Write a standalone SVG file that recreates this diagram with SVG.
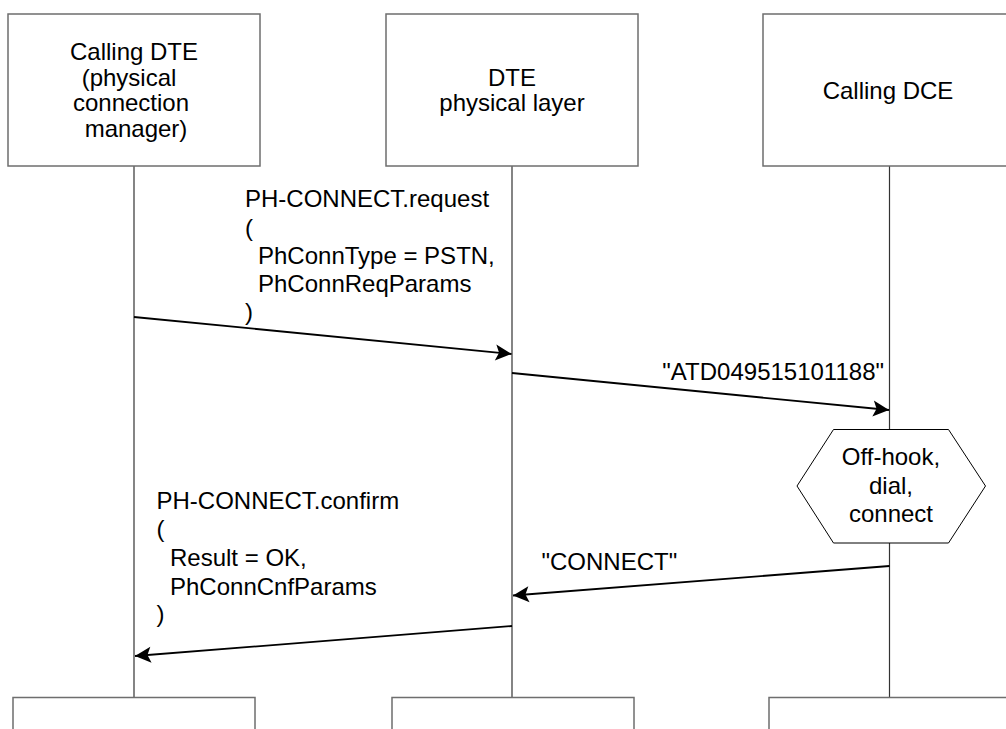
<svg xmlns="http://www.w3.org/2000/svg" width="1006" height="729" viewBox="0 0 1006 729">
<style>
  .box { fill: #ffffff; stroke: #6e6e6e; stroke-width: 1.5; }
  .life { stroke: #333333; stroke-width: 1.2; fill: none; }
  .msg { stroke: #000000; stroke-width: 1.8; fill: none; marker-end: url(#arrow); }
  .hex { fill: #ffffff; stroke: #000000; stroke-width: 1; }
  text { font-family: "Liberation Sans", Arial, sans-serif; font-size: 24px; fill: #000000; }
  .c { text-anchor: middle; }
  .e { text-anchor: end; }
</style>
<defs>
  <marker id="arrow" markerUnits="userSpaceOnUse" markerWidth="20" markerHeight="20" viewBox="-18 -10 20 20" refX="0" refY="0" orient="auto">
    <path d="M0,0 L-16,-8 L-12.5,0 L-16,8 Z" fill="#000000"/>
  </marker>
</defs>
<rect width="1006" height="729" fill="#ffffff"/>

<g id="lifelines">
  <line class="life" x1="134" y1="166" x2="134" y2="697"/>
  <line class="life" x1="512" y1="166" x2="512" y2="697"/>
  <line class="life" x1="889.5" y1="166" x2="889.5" y2="697"/>
</g>

<g id="node-calling-dte">
  <rect class="box" x="8" y="14" width="252" height="152"/>
  <text class="c" x="134" y="60">Calling DTE</text>
  <text class="c" x="129" y="85.5">(physical</text>
  <text class="c" x="131" y="111">connection</text>
  <text class="c" x="136" y="136.5">manager)</text>
</g>
<g id="node-dte-physical">
  <rect class="box" x="386" y="14" width="252" height="152"/>
  <text class="c" x="512" y="85.5">DTE</text>
  <text class="c" x="512" y="111">physical layer</text>
</g>
<g id="node-calling-dce">
  <rect class="box" x="763" y="14" width="252" height="152"/>
  <text class="c" x="888" y="98.5">Calling DCE</text>
</g>

<g id="node-bottom-dte">
  <rect class="box" x="13" y="697.5" width="242" height="60"/>
</g>
<g id="node-bottom-phys">
  <rect class="box" x="392" y="697.5" width="242" height="60"/>
</g>
<g id="node-bottom-dce">
  <rect class="box" x="769" y="697.5" width="260" height="60"/>
</g>

<g id="node-offhook">
  <polygon class="hex" points="797,486 833.5,429.5 948.5,429.5 985.5,486 948.5,543 833.5,543"/>
  <text class="c" x="891" y="465">Off-hook,</text>
  <text class="c" x="891" y="494">dial,</text>
  <text class="c" x="891" y="522">connect</text>
</g>

<g id="connectors">
  <line class="msg" x1="134" y1="317" x2="511.5" y2="354"/>
  <line class="msg" x1="512" y1="373" x2="889" y2="410"/>
  <line class="msg" x1="889.5" y1="566" x2="513" y2="595.5"/>
  <line class="msg" x1="512" y1="626" x2="135" y2="656"/>
</g>

<g id="labels">
  <text x="245" y="207">PH-CONNECT.request</text>
  <text x="245" y="235.5">(</text>
  <text x="258" y="264">PhConnType = PSTN,</text>
  <text x="258" y="292">PhConnReqParams</text>
  <text x="245" y="320">)</text>

  <text class="e" x="884" y="380">"ATD049515101188"</text>

  <text x="156.5" y="508.5">PH-CONNECT.confirm</text>
  <text x="156.5" y="537">(</text>
  <text x="170" y="566">Result = OK,</text>
  <text x="170" y="594.5">PhConnCnfParams</text>
  <text x="156.5" y="622">)</text>

  <text x="541.5" y="570">"CONNECT"</text>
</g>
</svg>
